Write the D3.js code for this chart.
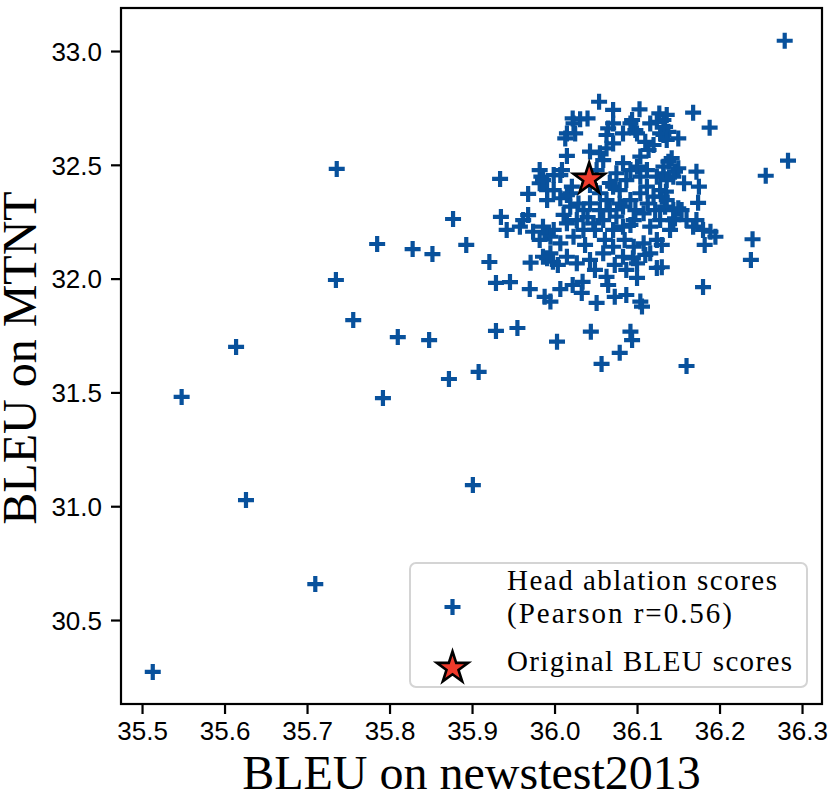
<!DOCTYPE html>
<html><head><meta charset="utf-8">
<script src="https://cdn.jsdelivr.net/npm/d3@7"></script>
<style>body{margin:0;background:#fff}svg{display:block}</style>
</head><body>
<svg id="chart" width="830" height="799"></svg>
<script>
// ---- data ----
const xTicks = [35.5,35.6,35.7,35.8,35.9,36.0,36.1,36.2,36.3];
const yTicks = [30.5,31.0,31.5,32.0,32.5,33.0];
const xDomain = [35.4745, 36.3242];
const yDomain = [30.131, 33.189];
const ablationX = [35.513,35.548,35.614,35.626,35.710,35.736,35.735,35.756,35.785,35.792,35.810,35.828,35.852,35.848,35.877,35.872,35.893,35.901,35.908,35.921,35.934,35.929,35.929,35.935,35.946,35.955,35.971,35.970,35.988,35.995,36.007,36.022,36.034,36.033,36.051,36.063,36.065,36.073,36.087,36.100,36.104,36.106,36.124,36.180,36.003,36.044,36.092,36.094,36.079,36.057,36.160,36.073,36.095,36.049,35.998,36.004,35.991,36.279,36.168,36.188,36.136,36.132,36.134,36.138,36.132,36.150,36.283,36.256,36.142,36.138,36.132,36.146,36.132,36.172,36.157,36.175,36.135,36.130,36.174,36.134,36.144,36.150,36.154,36.146,36.172,36.168,36.180,36.189,36.195,36.182,36.240,36.238,36.130,36.130,36.054,36.071,36.103,36.022,36.031,36.040,36.071,36.065,36.094,36.098,36.127,36.124,36.128,36.136,36.015,36.025,36.013,36.063,36.071,36.100,36.110,36.114,36.120,36.015,36.043,36.055,36.063,35.982,35.984,36.009,36.007,35.968,36.144,35.962,35.958,35.982,35.991,35.999,35.999,35.991,36.007,36.019,35.986,36.023,36.083,36.092,36.116,36.104,36.150,36.083,36.092,36.100,36.075,36.071,36.087,36.104,36.112,36.124,36.136,36.059,36.051,36.055,36.063,36.067,36.075,36.083,36.092,36.104,36.112,36.120,36.128,36.136,36.160,36.043,36.035,36.027,36.015,35.999,35.991,36.007,36.023,36.035,36.047,36.059,36.071,36.083,36.096,36.108,36.116,36.128,36.140,36.124,35.995,36.015,36.027,36.043,36.059,36.071,36.083,36.096,36.108,36.116,36.100,36.087,36.015,36.021,36.019,35.968,35.974,35.986,35.995,35.986,35.982,35.942,36.144,36.043,36.079,36.098,36.055,36.037,36.122,36.110,36.061,36.085,36.049,36.092,36.029,36.011,36.067,36.079,36.040,36.113];
const ablationY = [30.272,31.480,31.700,31.027,30.658,32.482,31.994,31.818,32.152,31.475,31.743,32.130,32.108,31.730,32.262,31.559,32.148,31.093,31.590,32.073,32.438,31.981,31.770,32.271,31.985,31.783,32.070,31.954,31.920,31.899,31.954,31.972,31.986,31.937,31.893,32.008,31.972,31.920,31.928,32.003,31.899,31.877,32.047,31.963,31.723,31.767,31.767,31.730,31.674,31.625,31.616,32.060,32.089,32.038,32.074,32.060,32.090,33.045,32.729,32.663,32.719,32.697,32.667,32.645,32.631,32.616,32.518,32.452,32.529,32.514,32.492,32.470,32.463,32.470,32.419,32.404,32.382,32.360,32.333,32.316,32.301,32.309,32.301,32.265,32.257,32.228,32.214,32.206,32.184,32.148,32.173,32.082,32.148,32.050,32.777,32.741,32.744,32.704,32.700,32.704,32.682,32.660,32.697,32.653,32.726,32.689,32.638,32.609,32.638,32.638,32.616,32.631,32.594,32.638,32.601,32.565,32.587,32.539,32.558,32.551,32.572,32.477,32.448,32.477,32.455,32.372,32.448,32.257,32.228,32.419,32.389,32.455,32.389,32.345,32.353,32.375,32.433,32.682,32.638,32.682,32.682,32.536,32.485,32.507,32.477,32.492,32.463,32.404,32.433,32.448,32.477,32.448,32.433,32.521,32.477,32.375,32.345,32.301,32.272,32.316,32.345,32.375,32.404,32.360,32.389,32.345,32.257,32.331,32.301,32.257,32.243,32.214,32.199,32.155,32.184,32.214,32.243,32.257,32.214,32.228,32.257,32.287,32.228,32.257,32.214,32.170,32.111,32.096,32.067,32.082,32.111,32.140,32.096,32.140,32.155,32.111,32.067,32.038,32.367,32.404,32.316,32.279,32.206,32.228,32.184,32.096,32.170,32.214,32.257,32.411,32.389,32.301,32.301,32.148,32.301,32.104,32.170,32.170,32.214,32.236,32.330,32.280,32.420,32.330,32.270,32.330];
const originalX = [36.042];
const originalY = [32.438];
const xLabel = "BLEU on newstest2013";
const yLabel = "BLEU on MTNT";
const legendLabels = [["Head ablation scores","(Pearson r=0.56)"],["Original BLEU scores"]];

// ---- layout ----
const W = 830, H = 799;
const m = {left:121, right:822, top:8, bottom:704};
const blue = "#08519c", red = "#ef3b2c";
const serif = "'Liberation Serif','Times New Roman',serif";
const sans = "'Liberation Sans',Arial,Helvetica,sans-serif";

const svg = d3.select("#chart");
svg.append("rect").attr("width",W).attr("height",H).attr("fill","#fff");

const x = d3.scaleLinear().domain(xDomain).range([m.left, m.right]);
const y = d3.scaleLinear().domain(yDomain).range([m.bottom, m.top]);

const plusPath = "M-8,0H8M0,-8V8";
function starPath(R){
  const r = R*0.382, pts=[];
  for(let i=0;i<10;i++){
    const a = -Math.PI/2 + i*Math.PI/5, rr = i%2===0?R:r;
    pts.push([rr*Math.cos(a), rr*Math.sin(a)]);
  }
  return "M"+pts.map(p=>p[0].toFixed(2)+","+p[1].toFixed(2)).join("L")+"Z";
}

// points
const pts = ablationX.map((v,i)=>({x:v,y:ablationY[i]}));
svg.append("g").selectAll("path").data(pts).join("path")
  .attr("d",plusPath)
  .attr("transform",d=>`translate(${x(d.x)},${y(d.y)})`)
  .attr("fill","none").attr("stroke",blue).attr("stroke-width",4.2);

// star
svg.append("g").selectAll("path").data(originalX.map((v,i)=>({x:v,y:originalY[i]}))).join("path")
  .attr("d",starPath(16.5))
  .attr("transform",d=>`translate(${x(d.x)},${y(d.y)})`)
  .attr("fill",red).attr("stroke","#000").attr("stroke-width",2.6).attr("stroke-linejoin","miter");

// axes
const xAxis = d3.axisBottom(x).tickValues(xTicks).tickFormat(d3.format(".1f")).tickSize(10).tickPadding(8);
const yAxis = d3.axisLeft(y).tickValues(yTicks).tickFormat(d3.format(".1f")).tickSize(10).tickPadding(9);
const gx = svg.append("g").attr("transform",`translate(0,${m.bottom})`).call(xAxis);
const gy = svg.append("g").attr("transform",`translate(${m.left},0)`).call(yAxis);
[gx,gy].forEach(g=>{
  g.select(".domain").remove();
  g.selectAll(".tick line").attr("stroke","#000").attr("stroke-width",2.2);
  g.selectAll(".tick text").attr("fill","#000").style("font-family",sans).style("font-size","26px");
});
gx.selectAll(".tick text").attr("dy","0.71em");
gy.selectAll(".tick text").attr("dy","0.36em");

// frame
svg.append("rect").attr("x",m.left).attr("y",m.top).attr("width",m.right-m.left).attr("height",m.bottom-m.top)
  .attr("fill","none").attr("stroke","#000").attr("stroke-width",2.2);

// axis labels
svg.append("text").attr("x",(m.left+m.right)/2).attr("y",789).attr("text-anchor","middle")
  .style("font-family",serif).style("font-size","48px").attr("fill","#000").text(xLabel);
svg.append("text").attr("transform",`translate(36,358) rotate(-90)`).attr("text-anchor","middle")
  .style("font-family",serif).style("font-size","48px").attr("fill","#000").text(yLabel);

// legend
const lg = svg.append("g");
lg.append("rect").attr("x",410).attr("y",563).attr("width",397).attr("height",124).attr("rx",6)
  .attr("fill","#fff").attr("fill-opacity",0.8).attr("stroke","#d4d4d4").attr("stroke-width",2);
lg.append("path").attr("d",plusPath).attr("transform","translate(452.5,607)")
  .attr("fill","none").attr("stroke",blue).attr("stroke-width",4.2);
lg.append("path").attr("d",starPath(16.5)).attr("transform","translate(452.5,668)")
  .attr("fill",red).attr("stroke","#000").attr("stroke-width",2.6);
const lt = lg.append("g").style("font-family",serif).style("font-size","29px").attr("fill","#000");
lt.append("text").attr("x",507).attr("y",590).attr("textLength",270).attr("lengthAdjust","spacing").text(legendLabels[0][0]);
lt.append("text").attr("x",507).attr("y",623).attr("textLength",225).attr("lengthAdjust","spacing").text(legendLabels[0][1]);
lt.append("text").attr("x",507).attr("y",671).attr("textLength",285).attr("lengthAdjust","spacing").text(legendLabels[1][0]);
</script>
</body></html>
